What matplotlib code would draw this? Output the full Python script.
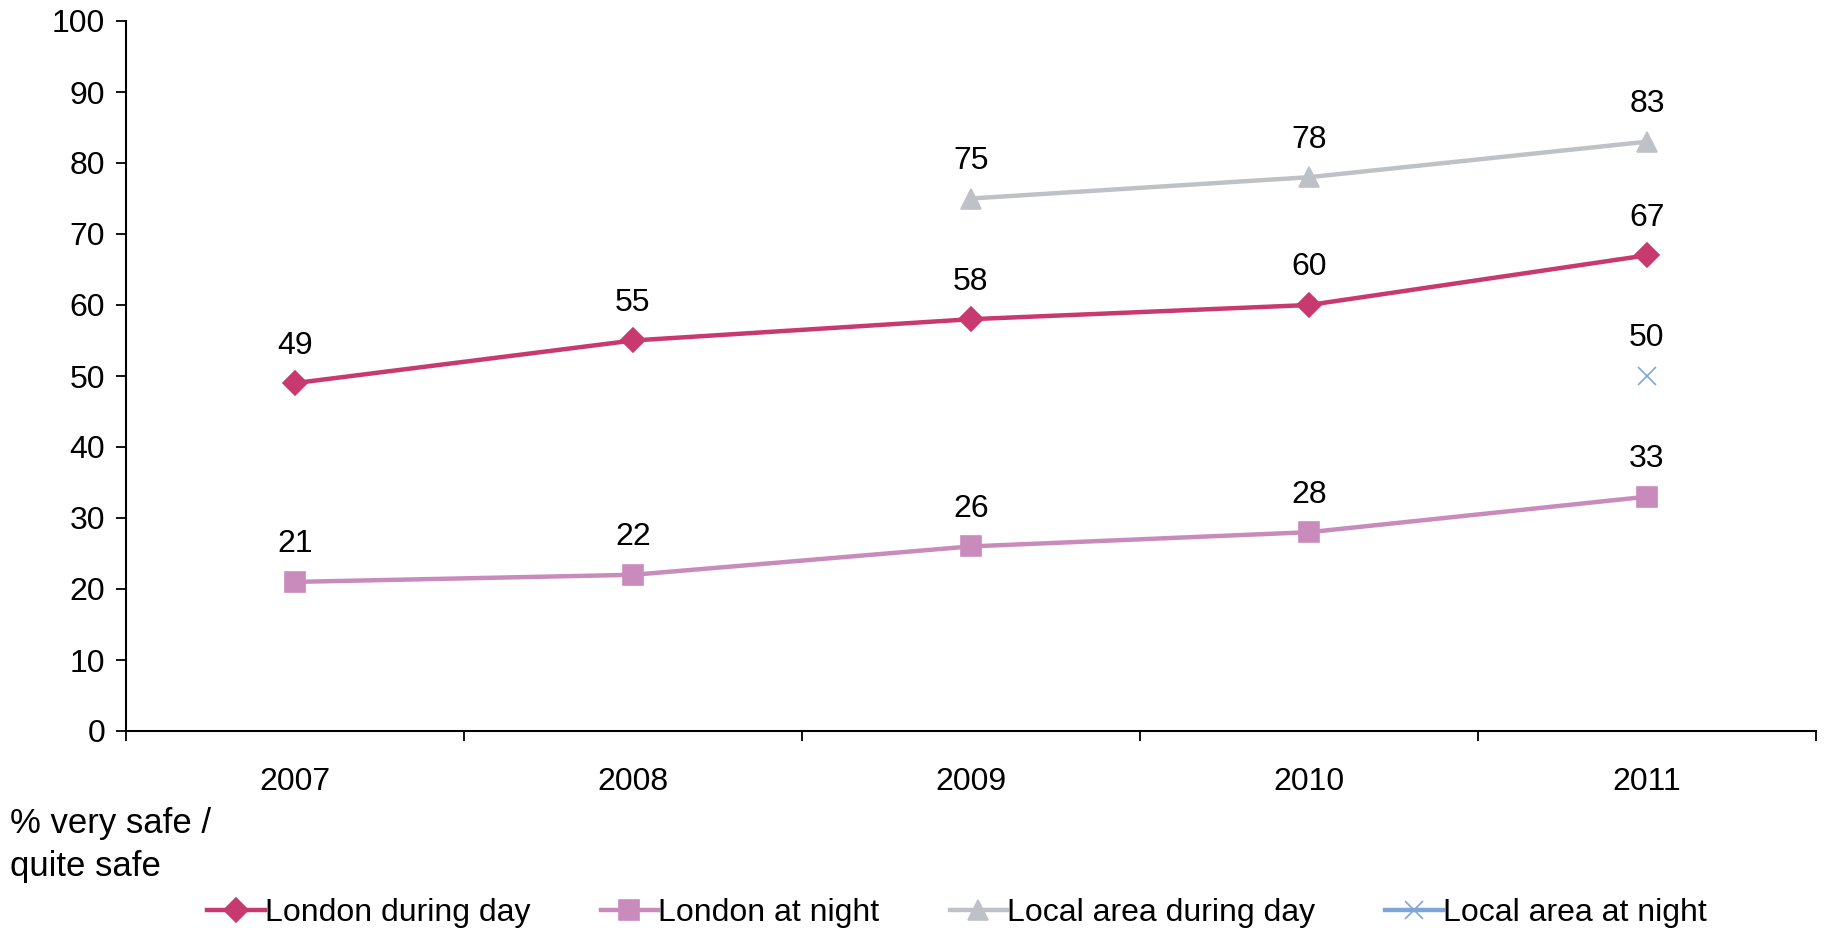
import matplotlib.pyplot as plt
import numpy as np

plt.rcParams['font.family'] = ['Liberation Sans', 'DejaVu Sans']
plt.rcParams['font.size'] = 23

years = ['2007', '2008', '2009', '2010', '2011']
london_day = [49, 55, 58, 60, 67]
london_night = [21, 22, 26, 28, 33]
local_day = [np.nan, np.nan, 75, 78, 83]
local_night = [np.nan, np.nan, np.nan, np.nan, 50]

series = [
    ('London during day', london_day, '#C8396F', 'D', 12),
    ('London at night', london_night, '#C98BBC', 's', 14),
    ('Local area during day', local_day, '#BEC2C6', '^', 14),
    ('Local area at night', local_night, '#7FA6D8', 'x', 13),
]

fig = plt.figure(figsize=(18.25, 9.31), dpi=100)
ax = fig.add_axes([126/1825, 1 - 731/931, (1816-126)/1825, (731-21)/931])

x = np.arange(1, len(years) + 1)
for name, vals, col, mk, ms in series:
    ax.plot(x, vals, color=col, lw=3.2, marker=mk, markersize=ms,
            markeredgecolor=col, markerfacecolor=col, markeredgewidth=1.2,
            label=name)
    for xi, v in zip(x, vals):
        if not np.isnan(v):
            ax.annotate(str(v), (xi, v), xytext=(0, 27), textcoords='offset points',
                        ha='center', va='center')

ax.set_xlim(0.5, 5.5)
ax.set_ylim(0, 100)
ax.set_yticks(range(0, 101, 10))
ax.set_xticks(np.arange(0.5, 6, 1))
ax.set_xticklabels([])
ax.set_xticks(x, minor=True)
ax.set_xticklabels(years, minor=True)
ax.tick_params(axis='x', which='minor', length=0, pad=26)
ax.tick_params(axis='x', which='major', length=7, width=1.3, direction='out')
ax.tick_params(axis='y', length=7, width=1.3, direction='out', pad=8)
for s in ['top', 'right']:
    ax.spines[s].set_visible(False)
for s in ['left', 'bottom']:
    ax.spines[s].set_linewidth(1.5)

fig.text(10/1825, 1 - 845/931, '% very safe /\nquite safe', ha='left', va='center',
         fontsize=25, linespacing=1.35)

fig.legend(loc='center', bbox_to_anchor=(957/1825, 1 - 913/931), ncol=4, frameon=False,
           handlelength=1.8, handletextpad=0.0, columnspacing=2.2)

fig.savefig('out.png', dpi=100)
